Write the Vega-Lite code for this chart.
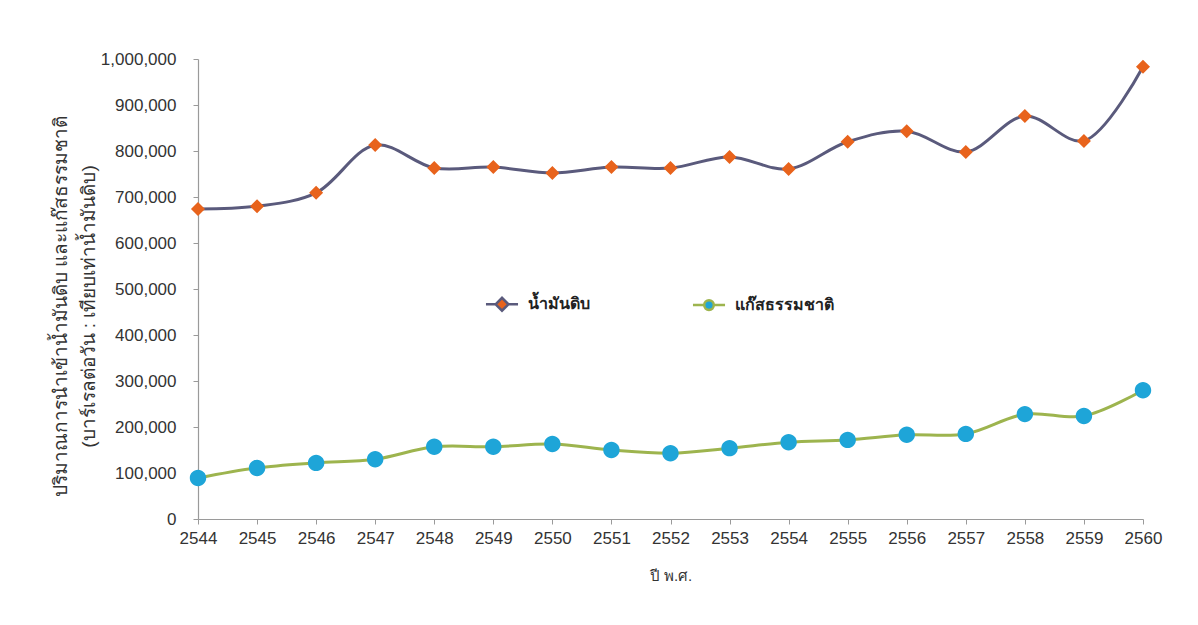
{
  "$schema": "https://vega.github.io/schema/vega-lite/v6.json",
  "width": 945,
  "height": 460,
  "autosize": "none",
  "padding": {"left": 198, "top": 59, "right": 55, "bottom": 106},
  "background": "white",
  "config": {
    "view": {"stroke": null},
    "font": "Liberation Sans",
    "axis": {
      "labelFont": "Liberation Sans",
      "labelFontSize": 17,
      "labelColor": "#333333",
      "domainColor": "#9a9a9a",
      "tickColor": "#9a9a9a",
      "domainWidth": 1.2,
      "tickSize": 5,
      "grid": false,
      "titleFont": "Liberation Sans",
      "titleFontWeight": "normal",
      "titleColor": "#333333",
      "titleFontSize": 15
    }
  },
  "data": {
    "values": [
      {"year": 2544, "series": "น้ำมันดิบ", "value": 674000},
      {"year": 2545, "series": "น้ำมันดิบ", "value": 680000},
      {"year": 2546, "series": "น้ำมันดิบ", "value": 709000},
      {"year": 2547, "series": "น้ำมันดิบ", "value": 813000},
      {"year": 2548, "series": "น้ำมันดิบ", "value": 763000},
      {"year": 2549, "series": "น้ำมันดิบ", "value": 765000},
      {"year": 2550, "series": "น้ำมันดิบ", "value": 752000},
      {"year": 2551, "series": "น้ำมันดิบ", "value": 765000},
      {"year": 2552, "series": "น้ำมันดิบ", "value": 763000},
      {"year": 2553, "series": "น้ำมันดิบ", "value": 787000},
      {"year": 2554, "series": "น้ำมันดิบ", "value": 761000},
      {"year": 2555, "series": "น้ำมันดิบ", "value": 820000},
      {"year": 2556, "series": "น้ำมันดิบ", "value": 843000},
      {"year": 2557, "series": "น้ำมันดิบ", "value": 798000},
      {"year": 2558, "series": "น้ำมันดิบ", "value": 876000},
      {"year": 2559, "series": "น้ำมันดิบ", "value": 822000},
      {"year": 2560, "series": "น้ำมันดิบ", "value": 983000},
      {"year": 2544, "series": "แก๊สธรรมชาติ", "value": 89000},
      {"year": 2545, "series": "แก๊สธรรมชาติ", "value": 111000},
      {"year": 2546, "series": "แก๊สธรรมชาติ", "value": 122000},
      {"year": 2547, "series": "แก๊สธรรมชาติ", "value": 130000},
      {"year": 2548, "series": "แก๊สธรรมชาติ", "value": 157000},
      {"year": 2549, "series": "แก๊สธรรมชาติ", "value": 157000},
      {"year": 2550, "series": "แก๊สธรรมชาติ", "value": 163000},
      {"year": 2551, "series": "แก๊สธรรมชาติ", "value": 150000},
      {"year": 2552, "series": "แก๊สธรรมชาติ", "value": 143000},
      {"year": 2553, "series": "แก๊สธรรมชาติ", "value": 154000},
      {"year": 2554, "series": "แก๊สธรรมชาติ", "value": 167000},
      {"year": 2555, "series": "แก๊สธรรมชาติ", "value": 172000},
      {"year": 2556, "series": "แก๊สธรรมชาติ", "value": 183000},
      {"year": 2557, "series": "แก๊สธรรมชาติ", "value": 185000},
      {"year": 2558, "series": "แก๊สธรรมชาติ", "value": 228000},
      {"year": 2559, "series": "แก๊สธรรมชาติ", "value": 224000},
      {"year": 2560, "series": "แก๊สธรรมชาติ", "value": 280000}
    ]
  },
  "encoding": {
    "x": {
      "field": "year",
      "type": "quantitative",
      "scale": {"domain": [2544, 2560], "nice": false, "zero": false},
      "axis": {
        "title": "ปี พ.ศ.",
        "values": [2544, 2545, 2546, 2547, 2548, 2549, 2550, 2551, 2552, 2553, 2554, 2555, 2556, 2557, 2558, 2559, 2560],
        "format": "d",
        "labelPadding": 6,
        "labelFlush": false,
        "titleY": 61,
        "titleBaseline": "alphabetic"
      }
    },
    "y": {
      "field": "value",
      "type": "quantitative",
      "scale": {"domain": [0, 1000000], "nice": false},
      "axis": {
        "title": ["ปริมาณการนำเข้าน้ำมันดิบ และแก๊สธรรมชาติ", "(บาร์เรลต่อวัน : เทียบเท่าน้ำมันดิบ)"],
        "values": [0, 100000, 200000, 300000, 400000, 500000, 600000, 700000, 800000, 900000, 1000000],
        "format": ",d",
        "labelPadding": 17,
        "titleX": -138,
        "titleY": 247,
        "titleAngle": -90,
        "titleAlign": "center",
        "titleBaseline": "middle",
        "titleFontSize": 19,
        "titleLineHeight": 28
      }
    }
  },
  "layer": [
    {
      "mark": {"type": "line", "interpolate": "catmull-rom", "strokeWidth": 3},
      "encoding": {
        "stroke": {
          "field": "series",
          "type": "nominal",
          "scale": {"domain": ["น้ำมันดิบ", "แก๊สธรรมชาติ"], "range": ["#5a5a7c", "#9db44e"]},
          "legend": {
            "title": null,
            "orient": "none",
            "legendX": 292,
            "legendY": 233,
            "direction": "horizontal",
            "symbolSize": 457,
            "labelOffset": 14,
            "labelFontSize": 16,
            "labelFontWeight": "bold",
            "labelColor": "#222222",
            "labelFont": "Liberation Sans",
            "columnPadding": 97,
            "encode": {
              "symbols": {
                "update": {
                  "stroke": {"scale": "stroke", "field": "value"},
                  "fill": {"scale": "fill", "field": "value"},
                  "shape": {"scale": "shape", "field": "value"},
                  "size": {"value": 457},
                  "strokeWidth": {"value": 2.5},
                  "opacity": {"value": 1}
                }
              }
            }
          }
        }
      }
    },
    {
      "transform": [{"filter": {"field": "series", "equal": "น้ำมันดิบ"}}],
      "mark": {"type": "point", "filled": true, "opacity": 1, "strokeWidth": 0, "size": 545},
      "encoding": {
        "fill": {
          "field": "series",
          "type": "nominal",
          "scale": {"domain": ["น้ำมันดิบ", "แก๊สธรรมชาติ"], "range": ["#e8631c", "#1ea5d8"]},
          "legend": null
        },
        "shape": {
          "field": "series",
          "type": "nominal",
          "scale": {
            "domain": ["น้ำมันดิบ", "แก๊สธรรมชาติ"],
            "range": [
              "M-1.5,0L-0.6,0M0.6,0L1.5,0M-0.6,0L0,-0.6L0.6,0L0,0.6Z",
              "M-1.5,0L-0.45,0M0.45,0L1.5,0M-0.45,0A0.45,0.45,0,1,1,0.45,0A0.45,0.45,0,1,1,-0.45,0Z"
            ]
          },
          "legend": null
        }
      }
    },
    {
      "transform": [{"filter": {"field": "series", "equal": "แก๊สธรรมชาติ"}}],
      "mark": {"type": "point", "filled": true, "opacity": 1, "strokeWidth": 0, "size": 1330},
      "encoding": {
        "fill": {"field": "series", "type": "nominal", "legend": null},
        "shape": {"field": "series", "type": "nominal", "legend": null}
      }
    }
  ]
}
